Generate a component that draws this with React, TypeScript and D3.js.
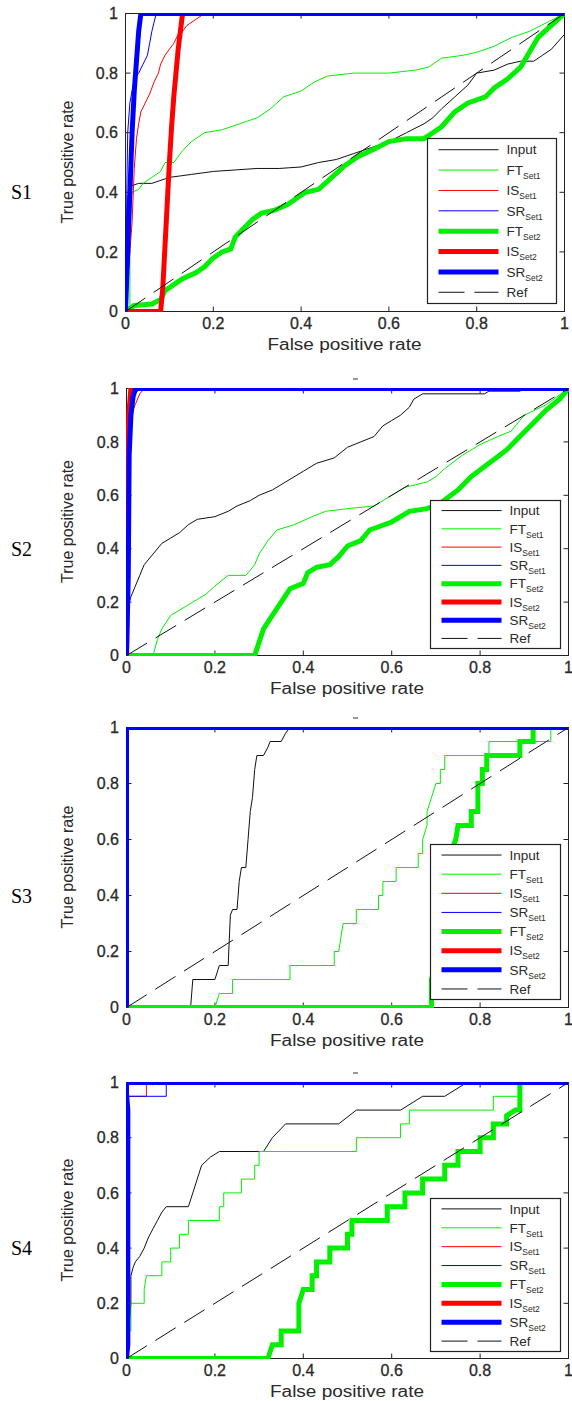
import React from 'react';
import * as d3 from 'd3';

type Pt = [number, number];

// ---- data (fpr, tpr) ----
const ticks = [0, 0.2, 0.4, 0.6, 0.8, 1];
const panelNames = ['S1', 'S2', 'S3', 'S4'];
const refLine: Pt[] = [[0, 0], [1, 1]];

const s1Input: Pt[] = [[0, 0], [0.005, 0.38], [0.01, 0.42], [0.03, 0.43], [0.06, 0.43], [0.1, 0.45], [0.15, 0.46], [0.2, 0.47], [0.25, 0.475], [0.3, 0.48], [0.35, 0.48], [0.4, 0.485], [0.44, 0.5], [0.48, 0.51], [0.52, 0.53], [0.56, 0.55], [0.6, 0.57], [0.64, 0.6], [0.68, 0.63], [0.7, 0.65], [0.72, 0.68], [0.75, 0.72], [0.78, 0.76], [0.8, 0.8], [0.84, 0.81], [0.87, 0.83], [0.9, 0.84], [0.93, 0.84], [0.95, 0.86], [0.97, 0.88], [1, 0.93], [1, 1]];
const s1FT1: Pt[] = [[0, 0], [0.01, 0], [0.01, 0.37], [0.015, 0.4], [0.03, 0.41], [0.04, 0.43], [0.06, 0.45], [0.08, 0.47], [0.09, 0.5], [0.11, 0.5], [0.13, 0.54], [0.15, 0.57], [0.18, 0.6], [0.22, 0.61], [0.26, 0.63], [0.3, 0.65], [0.33, 0.68], [0.36, 0.72], [0.4, 0.74], [0.43, 0.77], [0.46, 0.79], [0.52, 0.8], [0.6, 0.8], [0.66, 0.81], [0.69, 0.82], [0.72, 0.85], [0.77, 0.86], [0.8, 0.87], [0.84, 0.89], [0.88, 0.92], [0.92, 0.94], [0.96, 0.97], [1, 1]];
const s1IS1: Pt[] = [[0, 0], [0.015, 0.3], [0.02, 0.48], [0.025, 0.58], [0.03, 0.63], [0.035, 0.67], [0.045, 0.7], [0.055, 0.73], [0.065, 0.77], [0.075, 0.8], [0.08, 0.83], [0.09, 0.86], [0.1, 0.88], [0.11, 0.9], [0.12, 0.93], [0.13, 0.94], [0.14, 0.96], [0.16, 0.98], [0.18, 1], [1, 1]];
const s1SR1: Pt[] = [[0, 0], [0.003, 0.4], [0.005, 0.6], [0.01, 0.7], [0.02, 0.78], [0.03, 0.8], [0.04, 0.83], [0.05, 0.86], [0.055, 0.9], [0.06, 0.94], [0.065, 0.97], [0.07, 1], [1, 1]];
const s1FT2: Pt[] = [[0, 0], [0.02, 0.02], [0.06, 0.025], [0.08, 0.04], [0.09, 0.07], [0.11, 0.09], [0.13, 0.11], [0.16, 0.13], [0.18, 0.15], [0.2, 0.18], [0.22, 0.2], [0.24, 0.21], [0.25, 0.25], [0.27, 0.28], [0.29, 0.31], [0.31, 0.33], [0.34, 0.34], [0.37, 0.36], [0.39, 0.38], [0.41, 0.4], [0.44, 0.41], [0.47, 0.45], [0.5, 0.49], [0.53, 0.52], [0.56, 0.54], [0.6, 0.57], [0.64, 0.58], [0.68, 0.58], [0.7, 0.6], [0.72, 0.62], [0.75, 0.67], [0.78, 0.7], [0.82, 0.72], [0.84, 0.75], [0.87, 0.78], [0.9, 0.82], [0.92, 0.87], [0.94, 0.92], [0.97, 0.96], [1, 1]];
const s1IS2: Pt[] = [[0, 0], [0.08, 0], [0.085, 0.08], [0.09, 0.22], [0.095, 0.36], [0.1, 0.5], [0.105, 0.62], [0.11, 0.72], [0.115, 0.8], [0.12, 0.88], [0.125, 0.94], [0.13, 1], [1, 1]];
const s1SR2: Pt[] = [[0, 0], [0.005, 0.2], [0.01, 0.4], [0.015, 0.6], [0.02, 0.74], [0.025, 0.84], [0.03, 0.94], [0.035, 1], [1, 1]];

const s2Input: Pt[] = [[0, 0], [0.003, 0.18], [0.01, 0.22], [0.02, 0.26], [0.03, 0.3], [0.04, 0.34], [0.06, 0.38], [0.08, 0.42], [0.1, 0.44], [0.12, 0.46], [0.14, 0.49], [0.16, 0.51], [0.2, 0.52], [0.23, 0.54], [0.25, 0.56], [0.28, 0.58], [0.3, 0.6], [0.33, 0.62], [0.36, 0.65], [0.4, 0.69], [0.43, 0.72], [0.47, 0.74], [0.5, 0.78], [0.53, 0.8], [0.56, 0.82], [0.58, 0.86], [0.6, 0.88], [0.62, 0.9], [0.64, 0.93], [0.65, 0.96], [0.67, 0.98], [0.81, 0.98], [0.82, 0.99], [0.89, 0.99], [0.9, 1], [1, 1]];
const s2FT1: Pt[] = [[0, 0], [0.06, 0], [0.07, 0.06], [0.08, 0.1], [0.1, 0.15], [0.12, 0.17], [0.15, 0.2], [0.18, 0.23], [0.2, 0.26], [0.23, 0.3], [0.27, 0.3], [0.29, 0.34], [0.3, 0.38], [0.32, 0.43], [0.34, 0.47], [0.38, 0.49], [0.42, 0.52], [0.45, 0.54], [0.5, 0.55], [0.56, 0.56], [0.6, 0.6], [0.63, 0.63], [0.68, 0.65], [0.7, 0.67], [0.72, 0.7], [0.76, 0.75], [0.8, 0.79], [0.84, 0.82], [0.87, 0.84], [0.9, 0.9], [0.95, 0.94], [1, 1]];
const s2IS1: Pt[] = [[0, 0], [0.004, 0.75], [0.01, 0.9], [0.02, 0.94], [0.03, 0.98], [0.04, 1], [1, 1]];
const s2SR1: Pt[] = [[0, 0], [0.004, 0.8], [0.01, 0.95], [0.02, 0.98], [0.03, 1], [1, 1]];
const s2FT2: Pt[] = [[0, 0], [0.29, 0], [0.3, 0.05], [0.31, 0.1], [0.33, 0.15], [0.35, 0.2], [0.37, 0.25], [0.4, 0.27], [0.41, 0.31], [0.43, 0.33], [0.46, 0.34], [0.48, 0.37], [0.5, 0.41], [0.53, 0.43], [0.55, 0.47], [0.6, 0.5], [0.64, 0.54], [0.68, 0.55], [0.71, 0.57], [0.75, 0.62], [0.78, 0.67], [0.82, 0.72], [0.86, 0.77], [0.89, 0.82], [0.92, 0.87], [0.95, 0.92], [0.98, 0.96], [1, 1]];
const s2IS2: Pt[] = [[0, 0], [0.005, 0.9], [0.01, 1], [1, 1]];
const s2SR2: Pt[] = [[0, 0], [0.004, 0.3], [0.006, 0.75], [0.01, 0.9], [0.015, 0.97], [0.02, 1], [1, 1]];

const s3Input: Pt[] = [[0, 0], [0.145, 0], [0.15, 0.1], [0.2, 0.1], [0.21, 0.15], [0.23, 0.15], [0.235, 0.33], [0.24, 0.35], [0.25, 0.35], [0.255, 0.45], [0.26, 0.5], [0.27, 0.5], [0.275, 0.6], [0.28, 0.7], [0.285, 0.75], [0.29, 0.85], [0.295, 0.9], [0.31, 0.9], [0.32, 0.93], [0.325, 0.95], [0.35, 0.95], [0.36, 0.98], [0.37, 1], [1, 1]];
const s3FT1: Pt[] = [[0, 0], [0.2, 0], [0.21, 0.05], [0.24, 0.05], [0.24, 0.1], [0.37, 0.1], [0.37, 0.15], [0.47, 0.15], [0.47, 0.2], [0.48, 0.2], [0.485, 0.25], [0.49, 0.3], [0.52, 0.3], [0.52, 0.35], [0.57, 0.35], [0.57, 0.4], [0.58, 0.4], [0.58, 0.45], [0.61, 0.45], [0.61, 0.5], [0.66, 0.5], [0.66, 0.55], [0.67, 0.55], [0.67, 0.6], [0.68, 0.65], [0.68, 0.7], [0.69, 0.75], [0.7, 0.8], [0.71, 0.8], [0.71, 0.85], [0.72, 0.85], [0.72, 0.9], [0.82, 0.9], [0.82, 0.95], [0.96, 0.95], [0.96, 1], [1, 1]];
const s3IS1: Pt[] = [[0, 0], [0, 1], [1, 1]];
const s3SR1: Pt[] = [[0, 0], [0, 1], [1, 1]];
const s3FT2: Pt[] = [[0, 0], [0.69, 0], [0.69, 0.1], [0.7, 0.15], [0.71, 0.3], [0.73, 0.45], [0.74, 0.58], [0.745, 0.6], [0.75, 0.65], [0.78, 0.65], [0.78, 0.7], [0.795, 0.7], [0.795, 0.8], [0.805, 0.8], [0.805, 0.85], [0.815, 0.85], [0.815, 0.9], [0.89, 0.9], [0.89, 0.95], [0.92, 0.95], [0.92, 1], [1, 1]];
const s3IS2: Pt[] = [[0, 0], [0, 1], [1, 1]];
const s3SR2: Pt[] = [[0, 0], [0, 1], [1, 1]];

const s4Input: Pt[] = [[0, 0], [0.01, 0.2], [0.01, 0.3], [0.015, 0.33], [0.02, 0.35], [0.03, 0.37], [0.04, 0.4], [0.05, 0.44], [0.06, 0.47], [0.07, 0.5], [0.08, 0.53], [0.09, 0.55], [0.14, 0.55], [0.15, 0.6], [0.16, 0.65], [0.17, 0.7], [0.19, 0.73], [0.21, 0.75], [0.31, 0.75], [0.33, 0.8], [0.36, 0.85], [0.48, 0.85], [0.52, 0.9], [0.62, 0.9], [0.67, 0.95], [0.72, 0.95], [0.77, 1], [1, 1]];
const s4FT1: Pt[] = [[0, 0], [0, 0.1], [0.01, 0.1], [0.01, 0.2], [0.04, 0.2], [0.04, 0.25], [0.045, 0.3], [0.08, 0.3], [0.08, 0.35], [0.1, 0.35], [0.1, 0.4], [0.12, 0.4], [0.12, 0.45], [0.14, 0.45], [0.14, 0.5], [0.21, 0.5], [0.21, 0.55], [0.22, 0.55], [0.22, 0.6], [0.26, 0.6], [0.26, 0.65], [0.29, 0.65], [0.29, 0.7], [0.3, 0.7], [0.3, 0.75], [0.52, 0.75], [0.52, 0.8], [0.62, 0.8], [0.62, 0.85], [0.64, 0.85], [0.64, 0.9], [0.83, 0.9], [0.83, 0.95], [0.89, 0.95], [0.89, 1], [1, 1]];
const s4IS1: Pt[] = [[0, 0], [0, 0.95], [0.045, 0.95], [0.045, 1], [1, 1]];
const s4SR1: Pt[] = [[0, 0], [0, 0.95], [0.09, 0.95], [0.09, 1], [1, 1]];
const s4FT2: Pt[] = [[0, 0], [0.32, 0], [0.33, 0.05], [0.35, 0.05], [0.35, 0.1], [0.39, 0.1], [0.39, 0.2], [0.4, 0.25], [0.42, 0.25], [0.42, 0.3], [0.43, 0.3], [0.43, 0.35], [0.46, 0.35], [0.46, 0.4], [0.5, 0.4], [0.5, 0.45], [0.51, 0.45], [0.51, 0.5], [0.59, 0.5], [0.59, 0.55], [0.63, 0.55], [0.63, 0.6], [0.67, 0.6], [0.67, 0.65], [0.72, 0.65], [0.72, 0.7], [0.75, 0.7], [0.75, 0.75], [0.8, 0.75], [0.8, 0.8], [0.83, 0.8], [0.83, 0.85], [0.86, 0.85], [0.86, 0.88], [0.88, 0.9], [0.89, 0.9], [0.89, 1], [1, 1]];
const s4IS2: Pt[] = [[0, 0], [0, 1], [1, 1]];
const s4SR2: Pt[] = [[0, 0], [0.003, 0.05], [0.003, 0.9], [0, 0.96], [0, 1], [1, 1]];

const panelSeries: Pt[][][] = [
  [s1Input, s1FT1, s1IS1, s1SR1, s1FT2, s1IS2, s1SR2, refLine],
  [s2Input, s2FT1, s2IS1, s2SR1, s2FT2, s2IS2, s2SR2, refLine],
  [s3Input, s3FT1, s3IS1, s3SR1, s3FT2, s3IS2, s3SR2, refLine],
  [s4Input, s4FT1, s4IS1, s4SR1, s4FT2, s4IS2, s4SR2, refLine],
];

// legend labels / styling
const seriesLabels = ['Input', 'FT', 'IS', 'SR', 'FT', 'IS', 'SR', 'Ref'];
const seriesSubs = ['', 'Set1', 'Set1', 'Set1', 'Set2', 'Set2', 'Set2', ''];
const seriesColors = ['#111', '#00f000', '#ff0000', '#0000ff', '#00f000', '#ff0000', '#0000ff', '#111'];
const seriesWidths = [1, 1, 1, 1, 5, 5, 5, 1];

// panel boxes in page pixels
const boxes = [
  { left: 125, right: 564, top: 13, bottom: 311 },
  { left: 126, right: 568, top: 388, bottom: 655 },
  { left: 126, right: 568, top: 727, bottom: 1007 },
  { left: 126, right: 568, top: 1082, bottom: 1358 },
];

const sans = 'Arial, "Liberation Sans", Helvetica, sans-serif';
const txt = '#2a2a2a';

function Panel({ idx }: { idx: number }) {
  const b = boxes[idx];
  const w = b.right - b.left;
  const h = b.bottom - b.top;
  // half-pixel offsets keep 1px strokes crisp and thick edges on whole pixels
  const x = d3.scaleLinear().domain([0, 1]).range([b.left + 0.5, b.right + 0.5]);
  const y = d3.scaleLinear().domain([0, 1]).range([b.bottom + 0.5, b.top + 0.5]);
  const line = d3.line<Pt>().x(d => x(d[0])).y(d => y(d[1]));
  const clipId = `clip-${idx}`;

  // legend box
  const lgL = Math.round(b.left + 0.688 * w) + 0.5;
  const lgR = Math.round(b.left + 0.982 * w) + 0.5;
  const lgB = Math.round(b.bottom - 0.027 * h) + 0.5;
  const lgT = Math.round(lgB - 0.555 * h) + 0.5;
  const pad = 0.068 * (lgB - lgT);
  const step = (lgB - lgT - 2 * pad) / 7;
  const tl = 5;

  return (
    <g>
      <defs>
        <clipPath id={clipId}>
          <rect x={b.left} y={b.top} width={w + 1} height={h + 1} />
        </clipPath>
      </defs>
      <rect x={x(0)} y={y(1)} width={w} height={h} fill="#fff" stroke="#222" strokeWidth={1} />
      {ticks.map(t => (
        <g key={t} stroke="#222" strokeWidth={1}>
          <line x1={x(t)} x2={x(t)} y1={y(0)} y2={y(0) - tl} />
          <line x1={x(t)} x2={x(t)} y1={y(1)} y2={y(1) + tl} />
          <line x1={x(0)} x2={x(0) + tl} y1={y(t)} y2={y(t)} />
          <line x1={x(1)} x2={x(1) - tl} y1={y(t)} y2={y(t)} />
        </g>
      ))}
      {ticks.map(t => (
        <text key={'x' + t} x={x(t)} y={b.bottom + 12} dy="0.35em" textAnchor="middle"
          fontFamily={sans} fontSize={16} fill={txt} stroke={txt} strokeWidth={0.3}>{String(t)}</text>
      ))}
      {ticks.map(t => (
        <text key={'y' + t} x={b.left - 7} y={y(t)} dy="0.35em" textAnchor="end"
          fontFamily={sans} fontSize={16} fill={txt} stroke={txt} strokeWidth={0.3}>{String(t)}</text>
      ))}
      <text x={b.left + w / 2} y={b.bottom + 33} dy="0.35em" textAnchor="middle"
        fontFamily={sans} fontSize={16} fill={txt} textLength={154} lengthAdjust="spacingAndGlyphs">False positive rate</text>
      <text transform={`translate(67,${b.top + h / 2}) rotate(-90)`} dy="0.35em" textAnchor="middle"
        fontFamily={sans} fontSize={16} fill={txt}>True positive rate</text>
      <text x={11} y={y(0.4)} dy="0.35em" fontFamily='"Liberation Serif", "Times New Roman", serif'
        fontSize={20} fill="#000">{panelNames[idx]}</text>

      <g clipPath={`url(#${clipId})`} fill="none">
        {panelSeries[idx].map((s, i) => (
          <path key={i} d={line(s) || ''} stroke={seriesColors[i]} strokeWidth={seriesWidths[i]}
            strokeDasharray={i === 7 ? '24 10' : undefined} strokeLinejoin="miter" />
        ))}
      </g>

      <rect x={lgL} y={lgT} width={lgR - lgL} height={lgB - lgT} fill="#fff" stroke="#222" strokeWidth={1.2} />
      {seriesLabels.map((lab, i) => {
        const cy = lgT + pad + i * step;
        return (
          <g key={i}>
            <line x1={lgL + 11} x2={lgL + 71} y1={cy} y2={cy} stroke={seriesColors[i]}
              strokeWidth={seriesWidths[i]} strokeDasharray={i === 7 ? '26 10' : undefined} />
            <text x={lgL + 79} y={cy} dy="0.35em" fontFamily={sans} fontSize={13.5} fill={txt}>
              {lab}
              {seriesSubs[i] && <tspan fontSize={8.5} dy={4}>{seriesSubs[i]}</tspan>}
            </text>
          </g>
        );
      })}
      {idx > 0 && (
        <line x1={353} x2={358} y1={b.top - 9} y2={b.top - 9} stroke="#555" strokeWidth={1.2} />
      )}
    </g>
  );
}

export default function App() {
  return (
    <svg width={572} height={1401} style={{ position: 'absolute', left: 0, top: 0, display: 'block' }}>
      <rect width={572} height={1401} fill="#fff" />
      {boxes.map((_, i) => <Panel key={i} idx={i} />)}
    </svg>
  );
}
